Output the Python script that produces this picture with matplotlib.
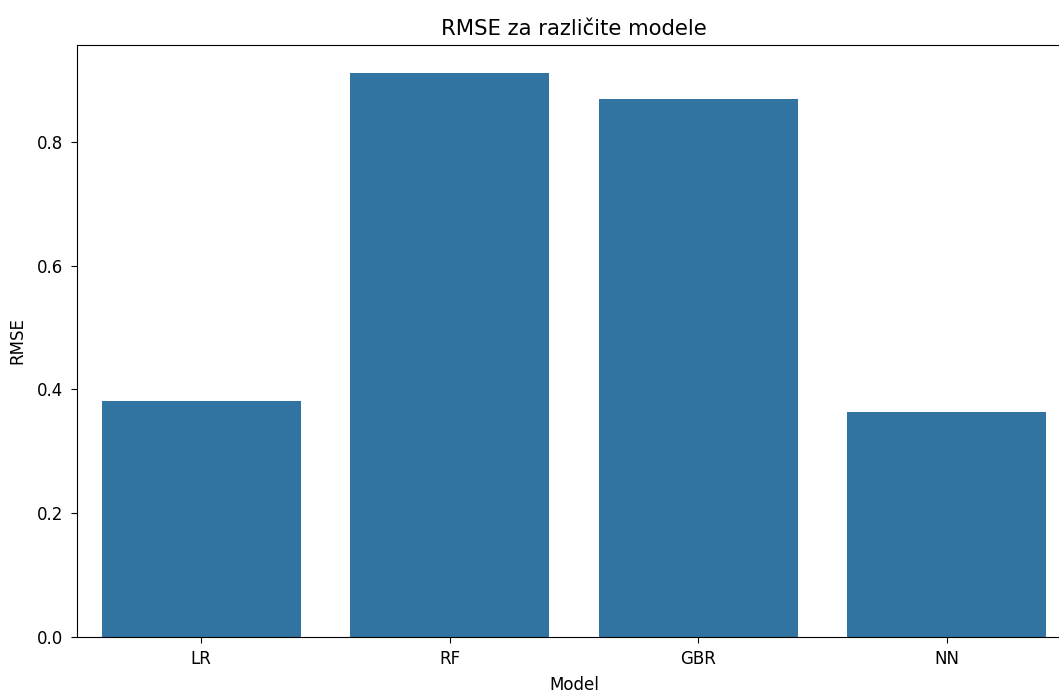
import matplotlib
matplotlib.use("Agg")
import matplotlib.pyplot as plt
import seaborn as sns
import pandas as pd

models = ["LR", "RF", "GBR", "NN"]
rmse = [0.381, 0.911, 0.869, 0.363]

df = pd.DataFrame({"Model": models, "RMSE": rmse})

fig = plt.figure(figsize=(10.59, 6.93), dpi=100)
# axes runs past the right edge, like the cropped original
ax = fig.add_axes([77/1059, 56/693, 994/1059, 592/693])
sns.barplot(data=df, x="Model", y="RMSE", color="#1f77b4", ax=ax)
ax.set_title("RMSE za različite modele", fontsize=15.2, pad=7)
ax.set_xlabel("Model", fontsize=12, labelpad=5.5)
ax.set_ylabel("RMSE", fontsize=12, labelpad=7.5)
ax.tick_params(labelsize=12, length=4.2, pad=5.5)
fig.savefig("out.png", dpi=100)
